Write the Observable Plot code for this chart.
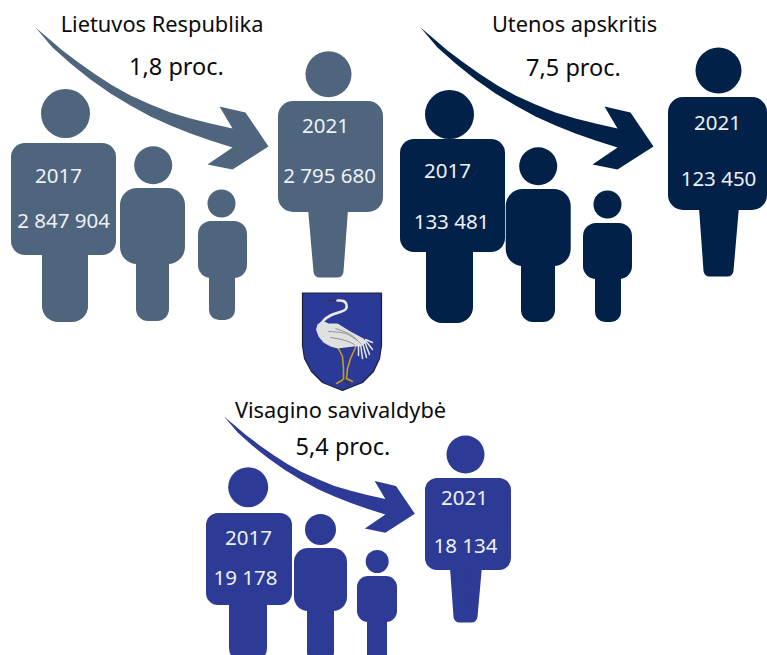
<!DOCTYPE html>
<html><head><meta charset="utf-8">
<script src="https://cdn.jsdelivr.net/npm/d3@7"></script>
<script src="https://cdn.jsdelivr.net/npm/@observablehq/plot@0.6"></script>
<style>html,body{margin:0;padding:0;background:#fff;overflow:hidden}</style>
</head><body><div id="chart"></div>
<script>
// chart values
const regions = ["Lietuvos Respublika", "Utenos apskritis", "Visagino savivaldybė"];
const declines = ["1,8 proc.", "7,5 proc.", "5,4 proc."];
const years = ["2017", "2021"];
const population2017 = [2847904, 133481, 19178];
const population2021 = [2795680, 123450, 18134];
const colours = ["#4f647d", "#012148", "#2d3b97"];

// layout
const titlePos = [[161.5, 31, 176, 74], [574, 31, 573, 75], [340, 417, 342.5, 454]];
const yearPos = [[58, 182, 325, 132], [447, 177, 717, 129], [248, 544, 464, 504]];
const valuePos = [[63, 227, 329, 182], [451, 228, 718, 185], [245, 584, 465, 552]];
const arrowPlace = [[0, 0, 1], [385, 0, 1], [223.3, 415.7, 0.82, true]];
const arrowShape = [[35,27],[48,38],[62,50],[78,62],[95,74],[112,85],[130,95],[150,104],[170,112],[190,118],[210,123],[232,128],
  [219,106],[245,112],[268,146],[232,169],[207,164],[232,147],[210,140],[190,133],[170,125],[150,116],[130,105],[110,93],[90,79],[70,63],[52,47]];
// person: head cx, cy, r; body x1,x2,y1,y2,rx; legs x1,x2,bottom,rx
const people = [
  [0, 65,113,24.5, 11,116,143,255,14, 42,88,322,16],
  [0, 152.7,164.7,19, 120,185,188,264,17, 136,169,321,12],
  [0, 221,203,14, 198,247,221,278,13, 209,235,320,10],
  [1, 449,114,24.5, 400,505,139,252,14, 426,473,323,16],
  [1, 537.7,165.7,19, 505.7,570.7,189,266,17, 521,555,322,12],
  [1, 607,204,14, 583,632,223,279,13, 595,621,322,10],
  [2, 247.7,486.7,20, 206,292,513,605,12, 229,267,662,14],
  [2, 320,529,15.5, 294,347,548,611,14, 307,334,662,10],
  [2, 376.7,561,11.5, 357,397,576,622,11, 367,387,662,8]
];
// now-figure: head cx, cy, r; body x1,x2,y1,y2,rx; leg top x1,x2, bottom x1,x2,y
const nowPeople = [
  [0, 328,73.7,23, 278,383,101,212,15, 308,347, 313,343,277],
  [1, 718,70,23, 668,767,97,210,15, 699,738, 703,733,276],
  [2, 465,454,19, 425,511,478,570,12, 450,481, 453,477,622]
];
const shield = [[302,292.5],[381,292.5],[381,345],[379,358],[373,371],[362,382],[342,390],[322,382],[311,371],[304,358],[302,345]];
const craneBody = [[322,320],[317,324],[315.5,329],[318,336],[323,342],[330,346],[337,348],[345,347],[353,346],[360,346],[366,342],[363,338],[350,331],[337,323],[328,323]];
const craneNeck = [[337,300],[343,300.5],[346,304],[345,309],[338,312],[330,315],[323,320],[320,326]];
const craneBeak = [[327,300],[338,300]];
const craneLegA = [[337,346],[342,356],[343,368],[343,379],[336,383]];
const craneLegB = [[355,347],[350,358],[347,368],[346,378],[352,381]];
const craneFeet = [[343,380],[349,384]];
const wingLines = [[[328,331],[345,333],[357,340]],[[335,328],[350,334],[360,343]],[[330,337],[345,340],[354,344]]];
const tail = [[[358,343],[358,355]],[[360,343],[362,358]],[[362,342],[366,357]],[[364,341],[369,354]],[[365,340],[372,349]],[[365,339],[372,342]]];

const poly = (pts, o) => Plot.line([...pts, pts[0]], {x: d => d[0], y: d => d[1], stroke: "none", ...o});
const path = (pts, o) => Plot.line(pts, {x: d => d[0], y: d => d[1], ...o});
const spaced = n => d3.format(",")(n).replace(/,/g, " ");
const font = "Noto Sans";

const marks = [];
people.forEach(p => {
  const [r, cx, cy, hr, x1, x2, y1, y2, rx, lx1, lx2, lb, lr] = p;
  const fill = colours[r];
  marks.push(Plot.rect([0], {x1: lx1, x2: lx2, y1: y2 - 20, y2: lb, rx: lr, fill}));
  marks.push(Plot.rect([0], {x1, x2, y1, y2, rx, fill}));
  marks.push(Plot.dot([0], {x: cx, y: cy, r: hr, fill}));
});
nowPeople.forEach(p => {
  const [r, cx, cy, hr, x1, x2, y1, y2, rx, t1, t2, b1, b2, by] = p;
  const fill = colours[r];
  marks.push(poly([[t1 + 5, y2 - 10], [t2 - 5, y2 - 10], [b2 - 6, by - 6], [b1 + 6, by - 6]],
    {fill, stroke: fill, strokeWidth: 12, strokeLinejoin: "round"}));
  marks.push(Plot.rect([0], {x1, x2, y1, y2, rx, fill}));
  marks.push(Plot.dot([0], {x: cx, y: cy, r: hr, fill}));
});
arrowPlace.forEach((a, r) => {
  const pts = a[3]
    ? arrowShape.map(([x, y]) => [a[0] + (x - 35) * a[2], a[1] + (y - 27) * a[2]])
    : arrowShape.map(([x, y]) => [x + a[0], y + a[1]]);
  marks.push(poly(pts, {fill: colours[r]}));
});
// coat of arms
marks.push(poly(shield, {fill: "#2b3a97", stroke: "#1a1f3c", strokeWidth: 1.2, strokeLinejoin: "round"}));
marks.push(path(craneLegA, {stroke: "#c49a30", strokeWidth: 1.6}));
marks.push(path(craneLegB, {stroke: "#c49a30", strokeWidth: 1.6}));
marks.push(path(craneFeet, {stroke: "#3a3320", strokeWidth: 1.2}));
marks.push(path(craneBeak, {stroke: "#333", strokeWidth: 1.2}));
marks.push(path(craneNeck, {stroke: "#e9e9e9", strokeWidth: 2.6, curve: "catmull-rom"}));
tail.forEach(l => marks.push(path(l, {stroke: "#e6e7ea", strokeWidth: 1.5})));
marks.push(poly(craneBody, {fill: "#dfe0e0"}));
wingLines.forEach(l => marks.push(path(l, {stroke: "#8d8f94", strokeWidth: 1, curve: "catmull-rom"})));
// texts
regions.forEach((t, i) => {
  const [tx, ty, dx, dy] = titlePos[i];
  marks.push(Plot.text([t], {x: tx, y: ty, text: d => d, lineAnchor: "bottom", fontSize: 21.8, fill: "#0b0b0b"}));
  marks.push(Plot.text([declines[i]], {x: dx, y: dy, text: d => d, lineAnchor: "bottom", fontSize: 23.5, fill: "#0b0b0b"}));
  const [y1x, y1y, y2x, y2y] = yearPos[i];
  const [v1x, v1y, v2x, v2y] = valuePos[i];
  const labels = [
    {x: y1x, y: y1y, t: years[0]}, {x: y2x, y: y2y, t: years[1]},
    {x: v1x, y: v1y, t: spaced(population2017[i])}, {x: v2x, y: v2y, t: spaced(population2021[i])}
  ];
  marks.push(Plot.text(labels, {x: "x", y: "y", text: "t", lineAnchor: "bottom", fontSize: 20.5, fill: "#eef1f5"}));
});

const chart = Plot.plot({
  width: 767, height: 655, margin: 0,
  x: {domain: [0, 767], range: [0, 767], axis: null},
  y: {domain: [0, 655], range: [0, 655], axis: null},
  style: {fontFamily: font, background: "#fff"},
  marks
});
document.getElementById("chart").append(chart);
</script></body></html>
